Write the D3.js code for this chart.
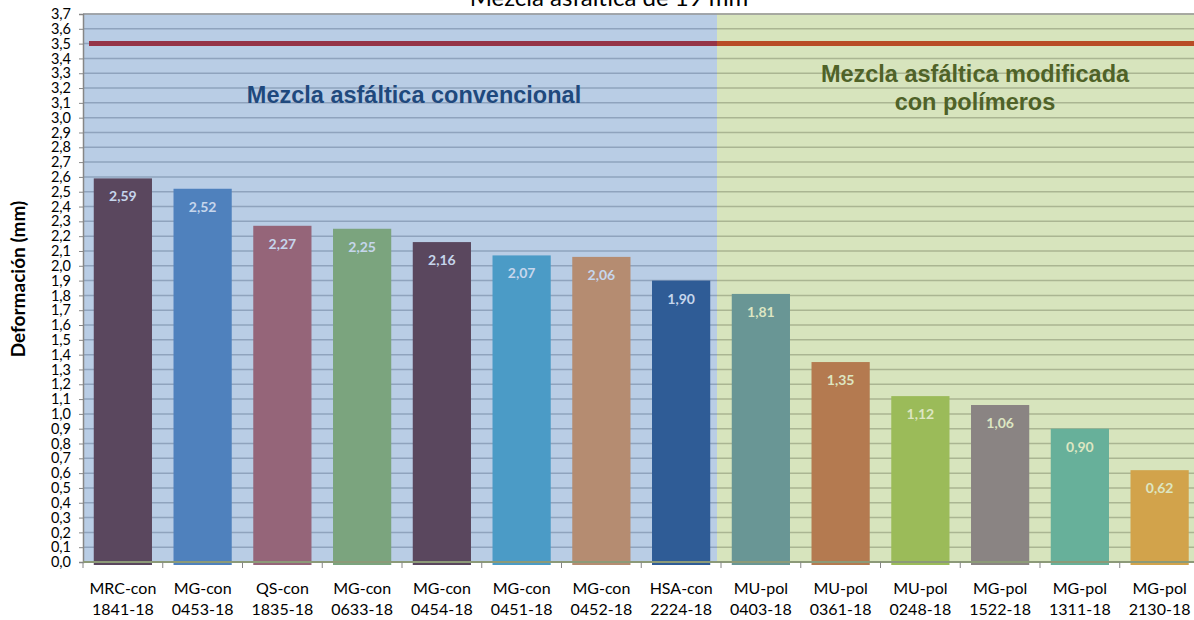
<!DOCTYPE html>
<html>
<head>
<meta charset="utf-8">
<script src="https://cdn.jsdelivr.net/npm/d3@7"></script>
<style>
  body { margin: 0; background: #fff; }
  svg { font-family: Lato, "Open Sans", sans-serif; }
</style>
</head>
<body>
<div id="vis"></div>
<script>
// data
var codes  = ["MRC-con", "MG-con", "QS-con", "MG-con", "MG-con", "MG-con", "MG-con", "HSA-con",
              "MU-pol", "MU-pol", "MU-pol", "MG-pol", "MG-pol", "MG-pol"];
var nums   = ["1841-18", "0453-18", "1835-18", "0633-18", "0454-18", "0451-18", "0452-18", "2224-18",
              "0403-18", "0361-18", "0248-18", "1522-18", "1311-18", "2130-18"];
var values = [2.59, 2.52, 2.27, 2.25, 2.16, 2.07, 2.06, 1.90, 1.81, 1.35, 1.12, 1.06, 0.90, 0.62];
var colors = ["#5a475e", "#4f81bd", "#956579", "#7ba47e", "#5a475e", "#4b9bc6", "#b58c71", "#2f5c96",
              "#699695", "#b47a50", "#9bbb59", "#8a8483", "#67b09a", "#d2a34b"];
var limit = 3.5;
var yTicks = d3.range(0, 38).map(function(i){ return i / 10; });

var W = 1194, H = 620;
var pL = 83, pR = 1199.5, pT = 14, pB = 562; // plot box
var split = 717; // where the "convencional" zone ends

var svg = d3.select("#vis").append("svg")
  .attr("width", W)
  .attr("height", H);

var keys = codes.map(function(c, i){ return i; });
var x = d3.scaleBand().domain(keys).range([pL, pR]).paddingInner(0.27).paddingOuter(0.135);
var y = d3.scaleLinear().domain([0, 3.7]).range([pB, pT]);
var fmt = function(v){ return d3.format(".1f")(v).replace(".", ","); };
var fmt2 = function(v){ return d3.format(".2f")(v).replace(".", ","); };

// zone backgrounds
svg.append("rect").attr("x", pL).attr("y", pT).attr("width", split - pL).attr("height", pB - pT)
  .attr("fill", "#b9cde5");
svg.append("rect").attr("x", split).attr("y", pT).attr("width", W - split).attr("height", pB - pT)
  .attr("fill", "#d7e4bd");

// gridlines, coloured per zone
var grid = svg.append("g");
yTicks.forEach(function(t){
  grid.append("line").attr("x1", pL).attr("x2", split).attr("y1", y(t)).attr("y2", y(t))
    .attr("stroke", "#8fa3bd").attr("stroke-width", 1.5);
  grid.append("line").attr("x1", split).attr("x2", W).attr("y1", y(t)).attr("y2", y(t))
    .attr("stroke", "#aab592").attr("stroke-width", 1.5);
});
svg.append("line").attr("x1", pL).attr("x2", W).attr("y1", pT).attr("y2", pT)
  .attr("stroke", "#a0a0a0").attr("stroke-width", 1.5);

// bars
svg.selectAll("rect.bar").data(values).enter().append("rect")
  .attr("class", "bar")
  .attr("x", function(d, i){ return x(i); })
  .attr("width", x.bandwidth())
  .attr("y", function(d){ return y(d); })
  .attr("height", function(d){ return y(0) - y(d) + 3; })
  .attr("fill", function(d, i){ return colors[i]; });

// value labels
svg.selectAll("text.val").data(values).enter().append("text")
  .attr("class", "val")
  .attr("x", function(d, i){ return x(i) + x.bandwidth() / 2; })
  .attr("y", function(d){ return y(d) + 23; })
  .attr("text-anchor", "middle")
  .style("font-size", "14px")
  .style("font-weight", "bold")
  .attr("fill", function(d, i){ return i < 8 ? "#c6d6ec" : "#dde6c2"; })
  .text(fmt2);

// limit line at 3.5
svg.append("line").attr("x1", 89).attr("x2", split).attr("y1", y(limit)).attr("y2", y(limit))
  .attr("stroke", "#953447").attr("stroke-width", 5);
svg.append("line").attr("x1", split).attr("x2", W).attr("y1", y(limit)).attr("y2", y(limit))
  .attr("stroke", "#b84c26").attr("stroke-width", 5);

// y axis
var yAxis = svg.append("g").attr("transform", "translate(" + pL + ",0)")
  .call(d3.axisLeft(y).tickValues(yTicks).tickFormat(fmt).tickSize(4).tickPadding(8));
yAxis.select(".domain").attr("stroke", "#868686").attr("stroke-width", 1.5);
yAxis.selectAll(".tick line").attr("stroke", "#868686");
yAxis.selectAll(".tick text").attr("fill", "#000")
  .style("font-size", "14.5px").style("font-family", "Lato, sans-serif");

// x axis
var xAxis = svg.append("g").attr("transform", "translate(0," + pB + ")");
xAxis.append("line").attr("x1", pL).attr("x2", W).attr("stroke", "#8c9a78").attr("stroke-width", 2);
d3.range(0, 15).forEach(function(i){
  var xx = pL + i * x.step();
  xAxis.append("line").attr("x1", xx).attr("x2", xx).attr("y1", 0).attr("y2", 6)
    .attr("stroke", "#868686").attr("stroke-width", 1);
});
var xl = svg.selectAll("g.xl").data(keys).enter().append("g")
  .attr("class", "xl")
  .attr("transform", function(i){ return "translate(" + (x(i) + x.bandwidth() / 2) + ",0)"; });
xl.append("text").attr("y", 594).attr("text-anchor", "middle").style("font-size", "16px")
  .text(function(i){ return codes[i]; });
xl.append("text").attr("y", 615).attr("text-anchor", "middle").style("font-size", "16px")
  .text(function(i){ return nums[i]; });

// titles
svg.append("text").attr("x", 609).attr("y", 6).attr("text-anchor", "middle")
  .style("font-size", "24px").text("Mezcla asfáltica de 19 mm");
svg.append("text").attr("transform", "translate(25,279) rotate(-90)").attr("text-anchor", "middle")
  .style("font-size", "19px").style("font-weight", "bold").text("Deformación (mm)");

// zone annotations
var ann = function(tx, ty, str, col){
  svg.append("text").attr("x", tx).attr("y", ty).attr("text-anchor", "middle")
    .style("font-family", "'Liberation Sans', Arial, sans-serif")
    .style("font-size", "23.5px").style("font-weight", "bold").attr("fill", col)
    .text(str);
};
ann(414, 103, "Mezcla asfáltica convencional", "#1f497d");
ann(975, 82, "Mezcla asfáltica modificada", "#4f6228");
ann(975, 110, "con polímeros", "#4f6228");
</script>
</body>
</html>
